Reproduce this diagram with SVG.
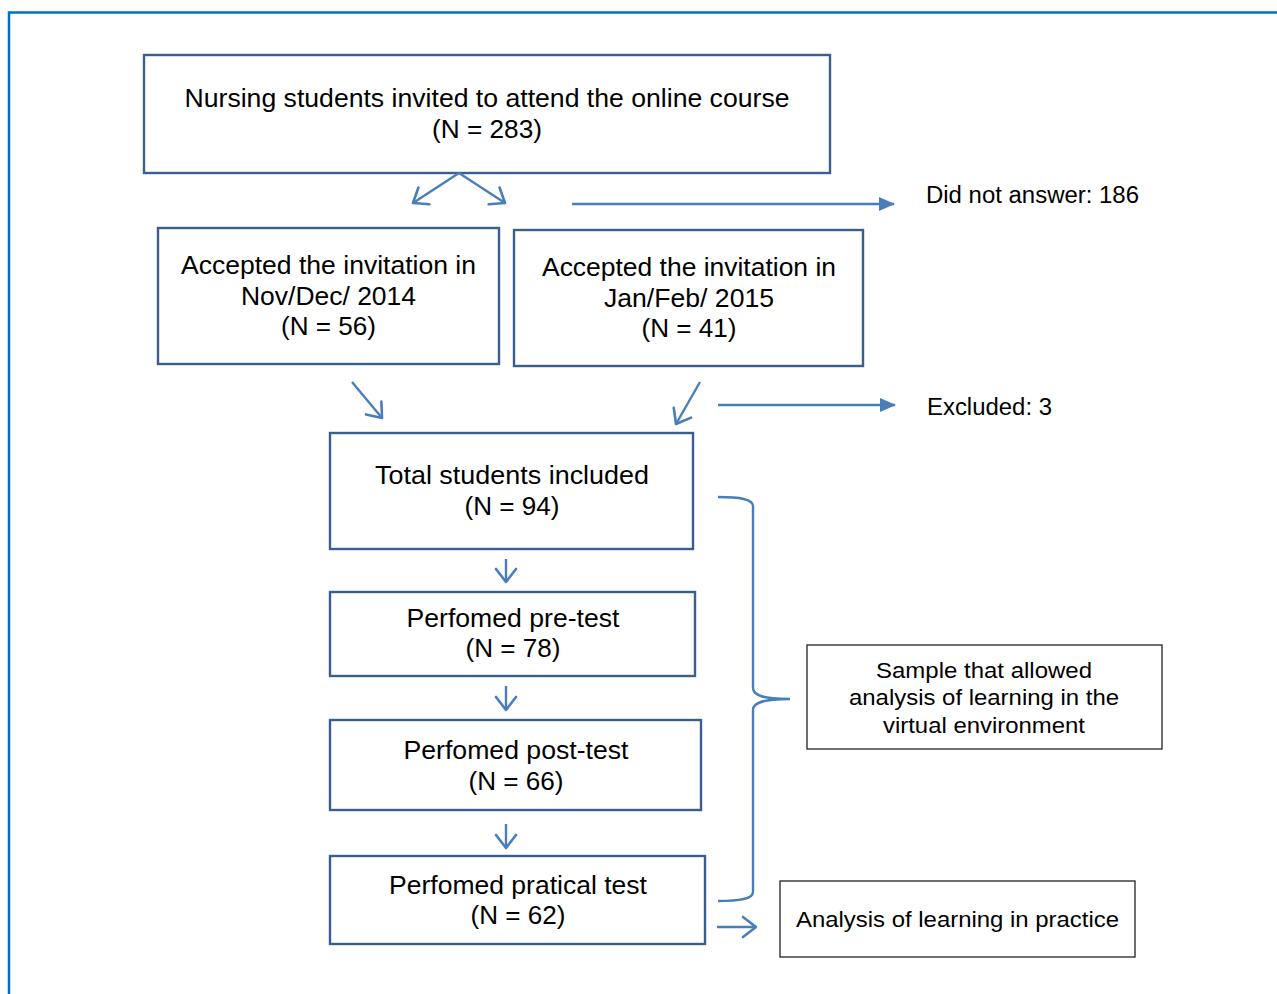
<svg xmlns="http://www.w3.org/2000/svg" width="1277" height="994" viewBox="0 0 1277 994">
<style>
.box{fill:#fff;stroke:#3A5F8F;stroke-width:2.4}
.bbox{fill:#fff;stroke:#222;stroke-width:1.3}
.t{font-family:"Liberation Sans",Arial,sans-serif;font-size:25px;fill:#000;text-anchor:middle}
.l{font-family:"Liberation Sans",Arial,sans-serif;font-size:23px;fill:#000}
.s{font-family:"Liberation Sans",Arial,sans-serif;font-size:22px;fill:#000;text-anchor:middle}
.c{fill:none;stroke:#4A7EBB;stroke-width:2.4}
</style>
<defs>
<marker id="open" markerUnits="userSpaceOnUse" markerWidth="34" markerHeight="34" refX="17" refY="17" orient="auto">
<path d="M4,7 L17,17 L4,27" fill="none" stroke="#4A7EBB" stroke-width="2.6" stroke-linecap="round" stroke-linejoin="round"/>
</marker>
<marker id="fill" markerUnits="userSpaceOnUse" markerWidth="20" markerHeight="20" refX="15" refY="10" orient="auto">
<path d="M0,3 L16,10 L0,17 Z" fill="#4A7EBB"/>
</marker>
</defs>
<rect x="9" y="12.5" width="1300" height="1000" fill="none" stroke="#0070C0" stroke-width="2.5"/>

<g id="n-invited">
<rect class="box" x="144" y="55" width="686" height="118"/>
<text class="t" x="487" y="107" textLength="605" lengthAdjust="spacingAndGlyphs">Nursing students invited to attend the online course</text>
<text class="t" x="487" y="138" textLength="110" lengthAdjust="spacingAndGlyphs">(N = 283)</text>
</g>
<g id="n-novdec">
<rect class="box" x="158" y="228" width="341" height="136"/>
<text class="t" x="328.5" y="274" textLength="295" lengthAdjust="spacingAndGlyphs">Accepted the invitation in</text>
<text class="t" x="328.5" y="305" textLength="175" lengthAdjust="spacingAndGlyphs">Nov/Dec/ 2014</text>
<text class="t" x="328.5" y="335" textLength="95" lengthAdjust="spacingAndGlyphs">(N = 56)</text>
</g>
<g id="n-janfeb">
<rect class="box" x="514" y="230" width="349" height="136"/>
<text class="t" x="689" y="276" textLength="294" lengthAdjust="spacingAndGlyphs">Accepted the invitation in</text>
<text class="t" x="689" y="307" textLength="170" lengthAdjust="spacingAndGlyphs">Jan/Feb/ 2015</text>
<text class="t" x="689" y="337" textLength="95" lengthAdjust="spacingAndGlyphs">(N = 41)</text>
</g>
<g id="n-total">
<rect class="box" x="330" y="433" width="363" height="116"/>
<text class="t" x="512" y="484" textLength="274" lengthAdjust="spacingAndGlyphs">Total students included</text>
<text class="t" x="512" y="515" textLength="95" lengthAdjust="spacingAndGlyphs">(N = 94)</text>
</g>
<g id="n-pretest">
<rect class="box" x="330" y="592" width="365" height="84"/>
<text class="t" x="513" y="627" textLength="213" lengthAdjust="spacingAndGlyphs">Perfomed pre-test</text>
<text class="t" x="513" y="657" textLength="95" lengthAdjust="spacingAndGlyphs">(N = 78)</text>
</g>
<g id="n-posttest">
<rect class="box" x="330" y="720" width="371" height="90"/>
<text class="t" x="516" y="759" textLength="225" lengthAdjust="spacingAndGlyphs">Perfomed post-test</text>
<text class="t" x="516" y="790" textLength="95" lengthAdjust="spacingAndGlyphs">(N = 66)</text>
</g>
<g id="n-practical">
<rect class="box" x="330" y="856" width="375" height="88"/>
<text class="t" x="518" y="894" textLength="258" lengthAdjust="spacingAndGlyphs">Perfomed pratical test</text>
<text class="t" x="518" y="924" textLength="95" lengthAdjust="spacingAndGlyphs">(N = 62)</text>
</g>
<g id="n-sample">
<rect class="bbox" x="807" y="645" width="355" height="104"/>
<text class="s" x="984" y="678" textLength="216" lengthAdjust="spacingAndGlyphs">Sample that allowed</text>
<text class="s" x="984" y="705" textLength="270" lengthAdjust="spacingAndGlyphs">analysis of learning in the</text>
<text class="s" x="984" y="733" textLength="202" lengthAdjust="spacingAndGlyphs">virtual environment</text>
</g>
<g id="n-analysis">
<rect class="bbox" x="780" y="881" width="355" height="76"/>
<text class="s" x="957.5" y="927" textLength="323" lengthAdjust="spacingAndGlyphs">Analysis of learning in practice</text>
</g>
<g id="n-noanswer">
<text class="l" x="926" y="203" textLength="213" lengthAdjust="spacingAndGlyphs">Did not answer: 186</text>
</g>
<g id="n-excluded">
<text class="l" x="927" y="415" textLength="125" lengthAdjust="spacingAndGlyphs">Excluded: 3</text>
</g>

<g id="connectors">
<path class="c" d="M459,173 L413,203" marker-end="url(#open)"/>
<path class="c" d="M459,173 L505,203" marker-end="url(#open)"/>
<path class="c" d="M572,204 L894,204" marker-end="url(#fill)"/>
<path class="c" d="M352,382 L382,418" marker-end="url(#open)"/>
<path class="c" d="M700,382 L676,424" marker-end="url(#open)"/>
<path class="c" d="M718,405 L895,405" marker-end="url(#fill)"/>
<path class="c" d="M506,559 L506,582" marker-end="url(#open)"/>
<path class="c" d="M506,686 L506,710" marker-end="url(#open)"/>
<path class="c" d="M506,824 L506,848" marker-end="url(#open)"/>
<path class="c" d="M717,927 L756,927" marker-end="url(#open)"/>
<path class="c" d="M718,497 C740,497 753,499 753,506 L753,688 C753,696 765,699 790,699 C765,699 753,702 753,710 L753,892 C753,899 740,901 718,901"/>
</g>
</svg>
